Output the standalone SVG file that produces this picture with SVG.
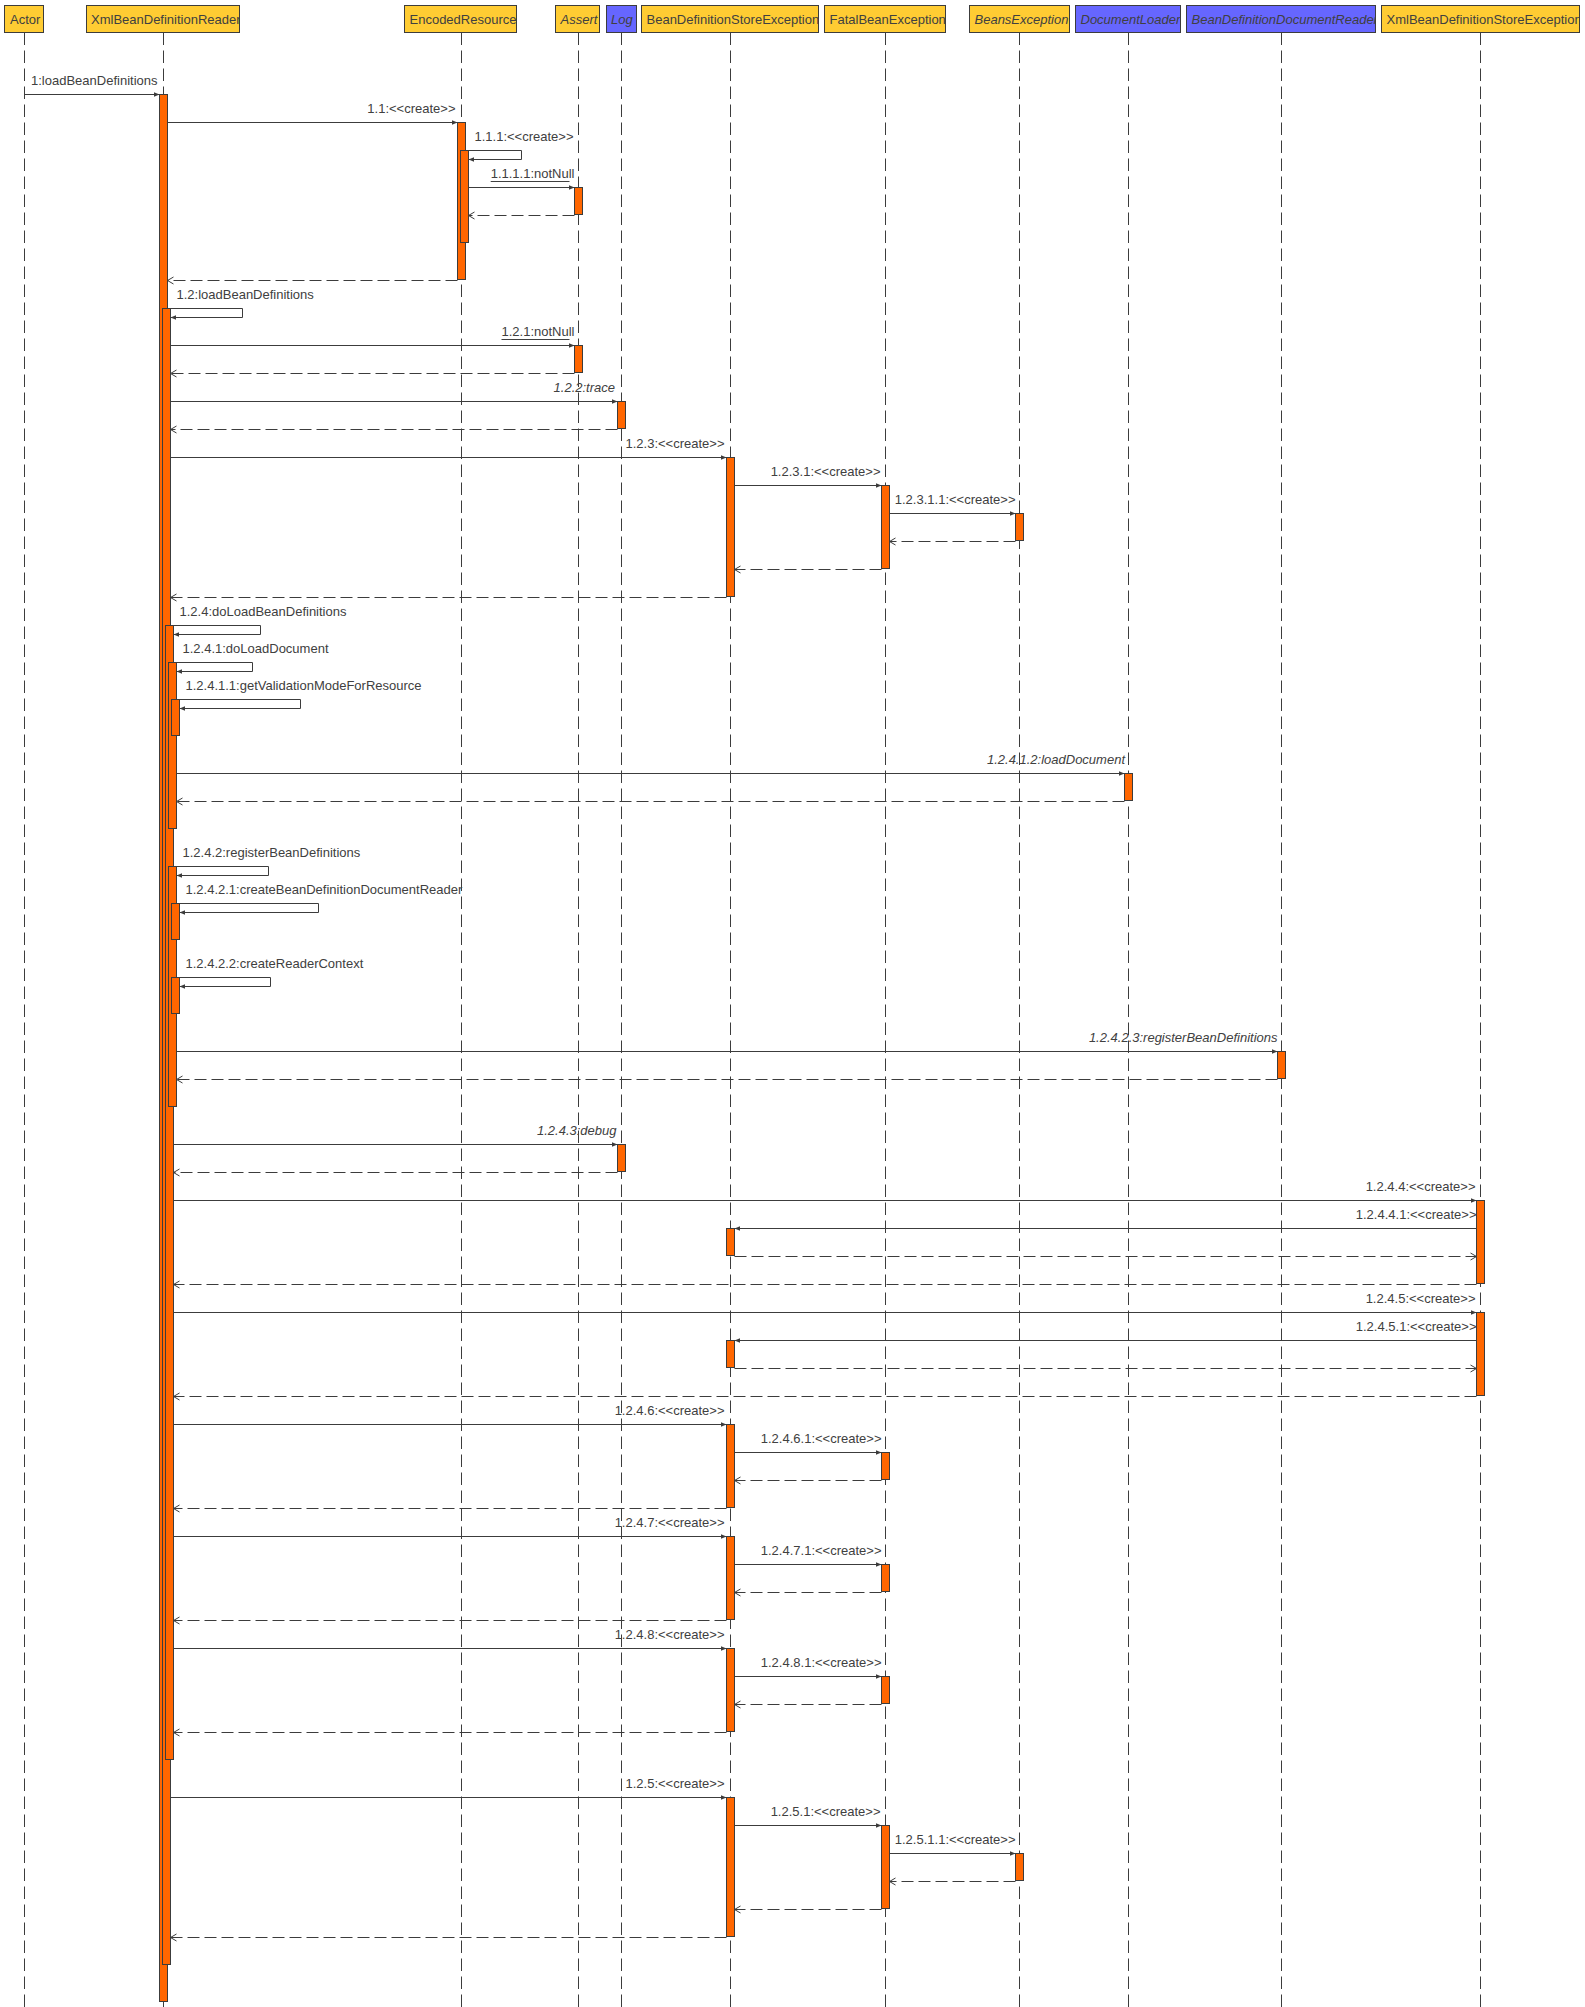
<svg xmlns="http://www.w3.org/2000/svg" width="1585" height="2007" viewBox="0 0 1585 2007">
<style>
.bx{stroke:#3c3c3c;stroke-width:1}
.y{fill:#FFCC33}
.b{fill:#6666FF}
.t{font-family:"Liberation Sans",Arial,sans-serif;font-size:13px;fill:#404040}
.i{font-style:italic}
.e{text-anchor:end}
.ll{stroke:#3c3c3c;stroke-width:1;stroke-dasharray:12.5 5.5;fill:none}
.act{fill:#FF6600;stroke:#3c3c3c;stroke-width:1}
.m{stroke:#3c3c3c;stroke-width:1;fill:none;marker-end:url(#sa)}
.r{stroke:#3c3c3c;stroke-width:1;fill:none;stroke-dasharray:12 5;marker-end:url(#oa)}
.u{stroke:#404040;stroke-width:1}
</style>
<defs>
<marker id="sa" markerUnits="userSpaceOnUse" viewBox="0 0 6 6" markerWidth="6" markerHeight="6" refX="5.5" refY="3" orient="auto">
<path d="M0,0.8 L5.5,3 L0,5.2 z" fill="#3c3c3c"/>
</marker>
<marker id="oa" markerUnits="userSpaceOnUse" viewBox="-1 -1 9 9" markerWidth="9" markerHeight="9" refX="6" refY="3.5" orient="auto">
<path d="M0,0 L6,3.5 L0,7" fill="none" stroke="#3c3c3c" stroke-width="1"/>
</marker>
<clipPath id="c1"><rect x="86.5" y="5.5" width="153" height="27"/></clipPath>
<clipPath id="c2"><rect x="641.5" y="5.5" width="177" height="27"/></clipPath>
<clipPath id="c3"><rect x="824.5" y="5.5" width="121" height="27"/></clipPath>
<clipPath id="c4"><rect x="1075.5" y="5.5" width="105" height="27"/></clipPath>
<clipPath id="c5"><rect x="1186.5" y="5.5" width="189" height="27"/></clipPath>
<clipPath id="c6"><rect x="1381.5" y="5.5" width="198" height="27"/></clipPath>
</defs>
<rect width="1585" height="2007" fill="#ffffff"/>

<g id="node-actor">
<line class="ll" x1="24.5" y1="32.5" x2="24.5" y2="2007"/>
<rect class="bx y" x="4.5" y="5.5" width="39" height="27"/>
<text class="t" x="10" y="24">Actor</text>
</g>

<g id="node-xmlbeandefinitionreader">
<line class="ll" x1="163.5" y1="32.5" x2="163.5" y2="2007"/>
<rect class="bx y" x="86.5" y="5.5" width="153" height="27"/>
<text class="t" x="91" y="24" clip-path="url(#c1)">XmlBeanDefinitionReader</text>
<rect class="act" x="159.5" y="94.5" width="8" height="1907"/>
<rect class="act" x="162.5" y="308.5" width="8" height="1656"/>
<rect class="act" x="165.5" y="625.5" width="8" height="1134"/>
<rect class="act" x="168.5" y="662.5" width="8" height="166"/>
<rect class="act" x="171.5" y="699.5" width="8" height="36"/>
<rect class="act" x="168.5" y="866.5" width="8" height="240"/>
<rect class="act" x="171.5" y="903.5" width="8" height="36"/>
<rect class="act" x="171.5" y="977.5" width="8" height="36"/>
</g>

<g id="node-encodedresource">
<line class="ll" x1="461.5" y1="32.5" x2="461.5" y2="2007"/>
<rect class="bx y" x="404.5" y="5.5" width="112" height="27"/>
<text class="t" x="409.5" y="24">EncodedResource</text>
<rect class="act" x="457.5" y="122.5" width="8" height="157"/>
<rect class="act" x="460.5" y="150.5" width="8" height="92"/>
</g>

<g id="node-assert">
<line class="ll" x1="578.5" y1="32.5" x2="578.5" y2="2007"/>
<rect class="bx y" x="555.5" y="5.5" width="44" height="27"/>
<text class="t i" x="560.5" y="24">Assert</text>
<rect class="act" x="574.5" y="187.5" width="8" height="27"/>
<rect class="act" x="574.5" y="345.5" width="8" height="27"/>
</g>

<g id="node-log">
<line class="ll" x1="621.5" y1="32.5" x2="621.5" y2="2007"/>
<rect class="bx b" x="606.5" y="5.5" width="30" height="27"/>
<text class="t i" x="611" y="24">Log</text>
<rect class="act" x="617.5" y="401.5" width="8" height="27"/>
<rect class="act" x="617.5" y="1144.5" width="8" height="27"/>
</g>

<g id="node-beandefinitionstoreexception">
<line class="ll" x1="730.5" y1="32.5" x2="730.5" y2="2007"/>
<rect class="bx y" x="641.5" y="5.5" width="177" height="27"/>
<text class="t" x="646.5" y="24" clip-path="url(#c2)">BeanDefinitionStoreException</text>
<rect class="act" x="726.5" y="457.5" width="8" height="139"/>
<rect class="act" x="726.5" y="1228.5" width="8" height="27"/>
<rect class="act" x="726.5" y="1340.5" width="8" height="27"/>
<rect class="act" x="726.5" y="1424.5" width="8" height="83"/>
<rect class="act" x="726.5" y="1536.5" width="8" height="83"/>
<rect class="act" x="726.5" y="1648.5" width="8" height="83"/>
<rect class="act" x="726.5" y="1797.5" width="8" height="139"/>
</g>

<g id="node-fatalbeanexception">
<line class="ll" x1="885.5" y1="32.5" x2="885.5" y2="2007"/>
<rect class="bx y" x="824.5" y="5.5" width="121" height="27"/>
<text class="t" x="829.5" y="24" clip-path="url(#c3)">FatalBeanException</text>
<rect class="act" x="881.5" y="485.5" width="8" height="83"/>
<rect class="act" x="881.5" y="1452.5" width="8" height="27"/>
<rect class="act" x="881.5" y="1564.5" width="8" height="27"/>
<rect class="act" x="881.5" y="1676.5" width="8" height="27"/>
<rect class="act" x="881.5" y="1825.5" width="8" height="83"/>
</g>

<g id="node-beansexception">
<line class="ll" x1="1019.5" y1="32.5" x2="1019.5" y2="2007"/>
<rect class="bx y" x="969.5" y="5.5" width="100" height="27"/>
<text class="t i" x="974.5" y="24">BeansException</text>
<rect class="act" x="1015.5" y="513.5" width="8" height="27"/>
<rect class="act" x="1015.5" y="1853.5" width="8" height="27"/>
</g>

<g id="node-documentloader">
<line class="ll" x1="1128.5" y1="32.5" x2="1128.5" y2="2007"/>
<rect class="bx b" x="1075.5" y="5.5" width="105" height="27"/>
<text class="t i" x="1080.5" y="24" clip-path="url(#c4)">DocumentLoader</text>
<rect class="act" x="1124.5" y="773.5" width="8" height="27"/>
</g>

<g id="node-beandefinitiondocumentreader">
<line class="ll" x1="1281.5" y1="32.5" x2="1281.5" y2="2007"/>
<rect class="bx b" x="1186.5" y="5.5" width="189" height="27"/>
<text class="t i" x="1191.5" y="24" clip-path="url(#c5)">BeanDefinitionDocumentReader</text>
<rect class="act" x="1277.5" y="1051.5" width="8" height="27"/>
</g>

<g id="node-xmlbeandefinitionstoreexception">
<line class="ll" x1="1480.5" y1="32.5" x2="1480.5" y2="2007"/>
<rect class="bx y" x="1381.5" y="5.5" width="198" height="27"/>
<text class="t" x="1386.5" y="24" clip-path="url(#c6)">XmlBeanDefinitionStoreException</text>
<rect class="act" x="1476.5" y="1200.5" width="8" height="83"/>
<rect class="act" x="1476.5" y="1312.5" width="8" height="83"/>
</g>

<g id="connectors">
<g><path class="m" d="M24.5,94.5 H159.5"/><text class="t e" x="157.5" y="85">1:loadBeanDefinitions</text></g>
<g><path class="m" d="M167.5,122.5 H457.5"/><text class="t e" x="455.5" y="113">1.1:&lt;&lt;create&gt;&gt;</text></g>
<g><path class="m" d="M465.5,150.5 H521.5 V159.5 H468.5"/><text class="t" x="474.5" y="141">1.1.1:&lt;&lt;create&gt;&gt;</text></g>
<g><path class="m" d="M468.5,187.5 H574.5"/><text class="t e" x="574.5" y="178">1.1.1.1:notNull</text><line class="u" x1="490.7" y1="181.5" x2="569.5" y2="181.5"/></g>
<path class="r" d="M574.5,215.5 H468.5"/>
<path class="r" d="M457.5,280.5 H167.5"/>
<g><path class="m" d="M167.5,308.5 H242.5 V317.5 H170.5"/><text class="t" x="176.5" y="299">1.2:loadBeanDefinitions</text></g>
<g><path class="m" d="M170.5,345.5 H574.5"/><text class="t e" x="574.5" y="336">1.2.1:notNull</text><line class="u" x1="501.5" y1="339.5" x2="569.5" y2="339.5"/></g>
<path class="r" d="M574.5,373.5 H170.5"/>
<g><path class="m" d="M170.5,401.5 H617.5"/><text class="t i e" x="615" y="392">1.2.2:trace</text></g>
<path class="r" d="M617.5,429.5 H170.5"/>
<g><path class="m" d="M170.5,457.5 H726.5"/><text class="t e" x="724.5" y="448">1.2.3:&lt;&lt;create&gt;&gt;</text></g>
<g><path class="m" d="M734.5,485.5 H881.5"/><text class="t e" x="880.5" y="476">1.2.3.1:&lt;&lt;create&gt;&gt;</text></g>
<g><path class="m" d="M889.5,513.5 H1015.5"/><text class="t e" x="1015.5" y="504">1.2.3.1.1:&lt;&lt;create&gt;&gt;</text></g>
<path class="r" d="M1015.5,541.5 H889.5"/>
<path class="r" d="M881.5,569.5 H734.5"/>
<path class="r" d="M726.5,597.5 H170.5"/>
<g><path class="m" d="M170.5,625.5 H260.5 V634.5 H173.5"/><text class="t" x="179.5" y="616">1.2.4:doLoadBeanDefinitions</text></g>
<g><path class="m" d="M173.5,662.5 H252.5 V671.5 H176.5"/><text class="t" x="182.5" y="653">1.2.4.1:doLoadDocument</text></g>
<g><path class="m" d="M176.5,699.5 H300.5 V708.5 H179.5"/><text class="t" x="185.5" y="690">1.2.4.1.1:getValidationModeForResource</text></g>
<g><path class="m" d="M176.5,773.5 H1124.5"/><text class="t i e" x="1125" y="764">1.2.4.1.2:loadDocument</text></g>
<path class="r" d="M1124.5,801.5 H176.5"/>
<g><path class="m" d="M173.5,866.5 H268.5 V875.5 H176.5"/><text class="t" x="182.5" y="857">1.2.4.2:registerBeanDefinitions</text></g>
<g><path class="m" d="M176.5,903.5 H318.5 V912.5 H179.5"/><text class="t" x="185.5" y="894">1.2.4.2.1:createBeanDefinitionDocumentReader</text></g>
<g><path class="m" d="M176.5,977.5 H270.5 V986.5 H179.5"/><text class="t" x="185.5" y="968">1.2.4.2.2:createReaderContext</text></g>
<g><path class="m" d="M176.5,1051.5 H1277.5"/><text class="t i e" x="1277.5" y="1042">1.2.4.2.3:registerBeanDefinitions</text></g>
<path class="r" d="M1277.5,1079.5 H176.5"/>
<g><path class="m" d="M173.5,1144.5 H617.5"/><text class="t i e" x="616.5" y="1135">1.2.4.3:debug</text></g>
<path class="r" d="M617.5,1172.5 H173.5"/>
<g><path class="m" d="M173.5,1200.5 H1476.5"/><text class="t e" x="1475.5" y="1191">1.2.4.4:&lt;&lt;create&gt;&gt;</text></g>
<g><path class="m" d="M1476.5,1228.5 H734.5"/><text class="t e" x="1476.5" y="1219">1.2.4.4.1:&lt;&lt;create&gt;&gt;</text></g>
<path class="r" d="M734.5,1256.5 H1476.5"/>
<path class="r" d="M1476.5,1284.5 H173.5"/>
<g><path class="m" d="M173.5,1312.5 H1476.5"/><text class="t e" x="1475.5" y="1303">1.2.4.5:&lt;&lt;create&gt;&gt;</text></g>
<g><path class="m" d="M1476.5,1340.5 H734.5"/><text class="t e" x="1476.5" y="1331">1.2.4.5.1:&lt;&lt;create&gt;&gt;</text></g>
<path class="r" d="M734.5,1368.5 H1476.5"/>
<path class="r" d="M1476.5,1396.5 H173.5"/>
<g><path class="m" d="M173.5,1424.5 H726.5"/><text class="t e" x="724.5" y="1415">1.2.4.6:&lt;&lt;create&gt;&gt;</text></g>
<g><path class="m" d="M734.5,1452.5 H881.5"/><text class="t e" x="881.5" y="1443">1.2.4.6.1:&lt;&lt;create&gt;&gt;</text></g>
<path class="r" d="M881.5,1480.5 H734.5"/>
<path class="r" d="M726.5,1508.5 H173.5"/>
<g><path class="m" d="M173.5,1536.5 H726.5"/><text class="t e" x="724.5" y="1527">1.2.4.7:&lt;&lt;create&gt;&gt;</text></g>
<g><path class="m" d="M734.5,1564.5 H881.5"/><text class="t e" x="881.5" y="1555">1.2.4.7.1:&lt;&lt;create&gt;&gt;</text></g>
<path class="r" d="M881.5,1592.5 H734.5"/>
<path class="r" d="M726.5,1620.5 H173.5"/>
<g><path class="m" d="M173.5,1648.5 H726.5"/><text class="t e" x="724.5" y="1639">1.2.4.8:&lt;&lt;create&gt;&gt;</text></g>
<g><path class="m" d="M734.5,1676.5 H881.5"/><text class="t e" x="881.5" y="1667">1.2.4.8.1:&lt;&lt;create&gt;&gt;</text></g>
<path class="r" d="M881.5,1704.5 H734.5"/>
<path class="r" d="M726.5,1732.5 H173.5"/>
<g><path class="m" d="M170.5,1797.5 H726.5"/><text class="t e" x="724.5" y="1788">1.2.5:&lt;&lt;create&gt;&gt;</text></g>
<g><path class="m" d="M734.5,1825.5 H881.5"/><text class="t e" x="880.5" y="1816">1.2.5.1:&lt;&lt;create&gt;&gt;</text></g>
<g><path class="m" d="M889.5,1853.5 H1015.5"/><text class="t e" x="1015.5" y="1844">1.2.5.1.1:&lt;&lt;create&gt;&gt;</text></g>
<path class="r" d="M1015.5,1881.5 H889.5"/>
<path class="r" d="M881.5,1909.5 H734.5"/>
<path class="r" d="M726.5,1937.5 H170.5"/>
</g>
</svg>
